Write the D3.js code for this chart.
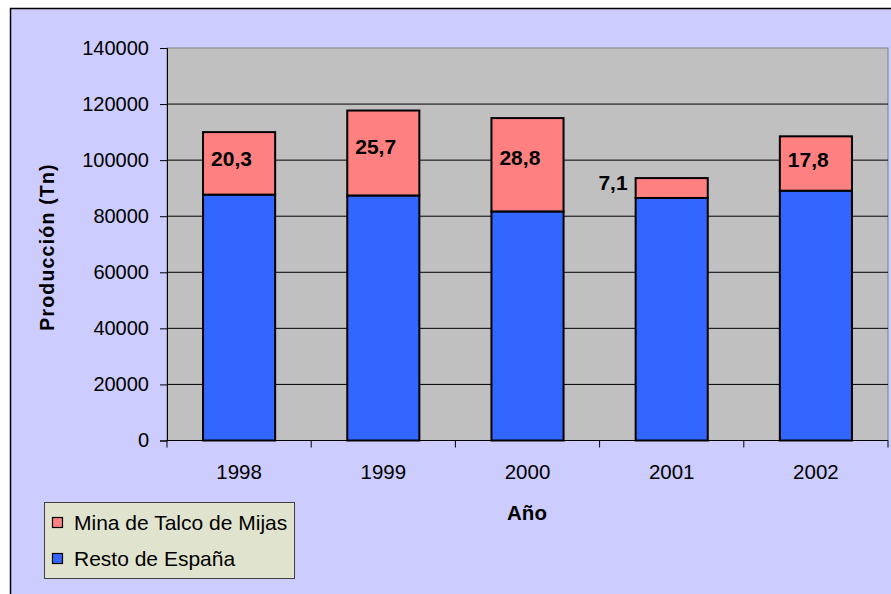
<!DOCTYPE html>
<html>
<head>
<meta charset="utf-8">
<script src="https://cdn.jsdelivr.net/npm/d3@7"></script>
<style>
  body { margin: 0; background: #fff; }
  text { font-family: "Liberation Sans", Arial, sans-serif; fill: #000; }
</style>
</head>
<body>
<div id="chart"></div>
<script>
// data
const years = ['1998', '1999', '2000', '2001', '2002'];
const resto = [87700, 87400, 81700, 86500, 89100];
const mijas = [22300, 30300, 33300, 7100, 19400];
const pct = [20.3, 25.7, 28.8, 7.1, 17.8];
const yTicks = [0, 20000, 40000, 60000, 80000, 100000, 120000, 140000];
const seriesNames = ['Mina de Talco de Mijas', 'Resto de España'];

const dims = { width: 891, height: 594 };
const plot = { left: 167, top: 48, right: 888, bottom: 440.5 };
const colors = { mijas: '#FF8080', resto: '#3366FF' };

const svg = d3.select('#chart')
    .append('svg')
    .attr('width', dims.width)
    .attr('height', dims.height);

// chart background
svg.append('rect')
    .attr('x', 10.5).attr('y', 8.5)
    .attr('width', 900).attr('height', 600)
    .attr('fill', '#CCCCFF')
    .attr('stroke', '#000').attr('stroke-width', 1.5);

const x = d3.scaleBand()
    .domain(years)
    .range([plot.left, plot.right])
    .paddingInner(0.5)
    .paddingOuter(0.25);

const y = d3.scaleLinear()
    .domain([0, 140000])
    .range([plot.bottom, plot.top]);

// plot area
svg.append('rect')
    .attr('x', plot.left).attr('y', plot.top)
    .attr('width', plot.right - plot.left)
    .attr('height', plot.bottom - plot.top)
    .attr('fill', '#C0C0C0')
    .attr('stroke', '#808080');

// gridlines
svg.append('g')
    .selectAll('line')
    .data(yTicks.filter(d => d > 0 && d < 140000))
    .enter().append('line')
    .attr('x1', plot.left).attr('x2', plot.right)
    .attr('y1', d => y(d)).attr('y2', d => y(d))
    .attr('stroke', '#000').attr('stroke-width', 1);

// stacked data
const stackData = years.map((yr, i) => ({ year: yr, resto: resto[i], mijas: mijas[i], pct: pct[i] }));
const stacked = d3.stack().keys(['resto', 'mijas'])(stackData);

svg.append('g')
    .selectAll('g')
    .data(stacked)
    .enter().append('g')
    .attr('fill', s => colors[s.key])
    .selectAll('rect')
    .data(s => s)
    .enter().append('rect')
    .attr('x', d => x(d.data.year))
    .attr('y', d => y(d[1]))
    .attr('width', x.bandwidth())
    .attr('height', d => y(d[0]) - y(d[1]))
    .attr('stroke', '#000').attr('stroke-width', 2);

// y axis
const yAxis = svg.append('g')
    .attr('transform', `translate(${plot.left},0)`)
    .call(d3.axisLeft(y).tickValues(yTicks).tickFormat(d3.format('d')).tickSizeOuter(0).tickSize(7).tickPadding(11));
yAxis.selectAll('text').style('font-size', '20px');
yAxis.selectAll('line, path').attr('stroke', '#000');

// x axis with ticks between categories
const xAxis = svg.append('g')
    .attr('transform', `translate(0,${plot.bottom})`);
xAxis.append('line')
    .attr('x1', plot.left).attr('x2', plot.right)
    .attr('stroke', '#000');
const step = x.step();
xAxis.selectAll('.sep')
    .data(d3.range(years.length + 1))
    .enter().append('line')
    .attr('x1', i => plot.left + i * step).attr('x2', i => plot.left + i * step)
    .attr('y1', 0).attr('y2', 7)
    .attr('stroke', '#000');
xAxis.selectAll('.yr')
    .data(years)
    .enter().append('text')
    .attr('x', d => x(d) + x.bandwidth() / 2)
    .attr('y', 38)
    .attr('text-anchor', 'middle')
    .style('font-size', '20.5px')
    .text(d => d);

// percentage labels
const fmt = v => d3.format('.1f')(v).replace('.', ',');
const isSmall = d => y(d.resto) - y(d.resto + d.mijas) < 30;
svg.append('g')
    .selectAll('text')
    .data(stackData)
    .enter().append('text')
    .attr('x', d => isSmall(d) ? x(d.year) - 8 : x(d.year) + 8)
    .attr('y', d => {
        const top = y(d.resto + d.mijas);
        const seg = y(d.resto) - top;
        return isSmall(d) ? top + 5 : top + seg * 0.42;
    })
    .attr('dy', '0.35em')
    .attr('text-anchor', d => isSmall(d) ? 'end' : 'start')
    .style('font-size', '21px')
    .style('font-weight', 'bold')
    .text(d => fmt(d.pct));

// axis titles
svg.append('text')
    .attr('transform', 'translate(54,247) rotate(-90)')
    .attr('text-anchor', 'middle')
    .style('font-size', '19.5px')
    .style('font-weight', 'bold')
    .style('letter-spacing', '1.2px')
    .text('Producción (Tn)');

svg.append('text')
    .attr('x', 527).attr('y', 520)
    .attr('text-anchor', 'middle')
    .style('font-size', '20.5px')
    .style('font-weight', 'bold')
    .text('Año');

// legend
const legend = svg.append('g');
legend.append('rect')
    .attr('x', 44.5).attr('y', 502.5)
    .attr('width', 250).attr('height', 76)
    .attr('fill', '#E0E4CE')
    .attr('stroke', '#404040');
const legendColors = [colors.mijas, colors.resto];
const rows = legend.selectAll('.row')
    .data(seriesNames)
    .enter().append('g')
    .attr('transform', (d, i) => `translate(0,${523 + i * 36})`);
rows.append('rect')
    .attr('x', 52.5).attr('y', -5.5)
    .attr('width', 10).attr('height', 10)
    .attr('fill', (d, i) => legendColors[i])
    .attr('stroke', '#000').attr('stroke-width', 1.2);
rows.append('text')
    .attr('x', 74).attr('dy', '0.35em')
    .style('font-size', '21px')
    .text(d => d);
</script>
</body>
</html>
